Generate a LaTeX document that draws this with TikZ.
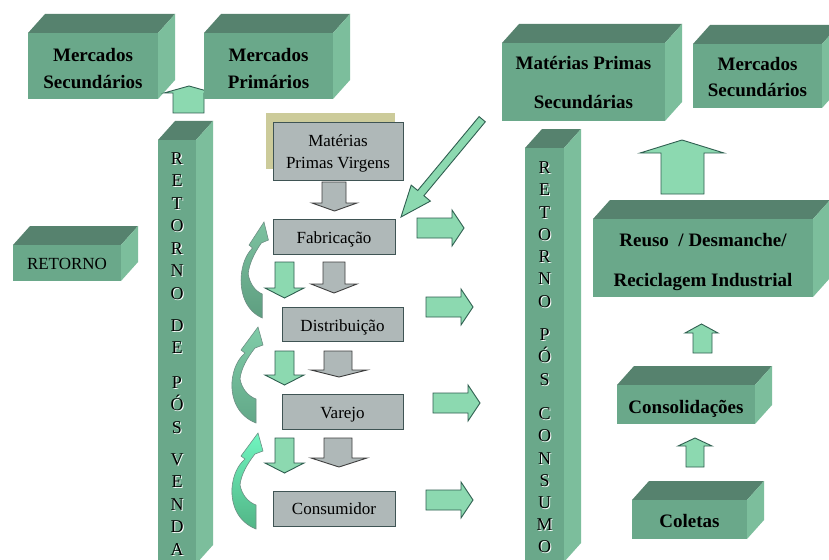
\documentclass[tikz,border=0pt]{standalone}
\usepackage{fontspec}
\setmainfont{Liberation Serif}
\definecolor{cfront}{HTML}{6AA88A}
\definecolor{ctop}{HTML}{56826E}
\definecolor{cside}{HTML}{7CBE9C}
\definecolor{agreen}{HTML}{8CD9B0}
\definecolor{aline}{HTML}{2F5F50}
\definecolor{gfill}{HTML}{AFB8B8}
\definecolor{gline}{HTML}{3F5454}
\definecolor{tanc}{HTML}{CCCB9A}
\definecolor{cva}{HTML}{7CC2A0}
\definecolor{cvb}{HTML}{5E9E80}
\definecolor{cvc}{HTML}{80CCA8}
\definecolor{cvd}{HTML}{62A888}
\definecolor{cve}{HTML}{70F5C0}
\definecolor{cvf}{HTML}{52B586}
\newcommand\cubebox[4]{%
  \fill[ctop] (#1,#2) -- (#1+17,#2-19) -- (#3+17,#2-19) -- (#3,#2) -- cycle;
  \fill[cside] (#3,#2) -- (#3+17,#2-19) -- (#3+17,#4-19) -- (#3,#4) -- cycle;
  \fill[cfront] (#1,#2) rectangle (#3,#4);}
\newcommand\curvarrow[5]{%
  \begin{scope}[shift={(#1,#2)},xscale=#5]
  \shade[top color=#3, bottom color=#4, draw=aline!70, line width=0.6pt]
   (23,96) .. controls (5,89) and (-2,72) .. (-1,55) .. controls (0,42) and (5,32) .. (12,26)
   -- (8,23) -- (25,0) -- (30,18) -- (22,21)
   .. controls (14,31) and (8,42) .. (7,52) .. controls (9,62) and (15,69) .. (23,72) -- cycle;
  \end{scope}}
\newcommand\rblock[2]{% x0, yc
  \draw[garrow] (#1,#2-10) -- (#1+35,#2-10) -- (#1+35,#2-18) -- (#1+47,#2) -- (#1+35,#2+18)
   -- (#1+35,#2+10) -- (#1,#2+10) -- cycle;}
\newcommand\dblock[8]{% style, sx1, sx2, top, hx1, hx2, base, tip
  \draw[#1] (#2,#4) -- (#3,#4) -- (#3,#7) -- (#6,#7) -- ({(#5+#6)/2},#8) -- (#5,#7) -- (#2,#7) -- cycle;}
\newcommand\ublock[7]{% sx1, sx2, bottom, hx1, hx2, base, tip
  \draw[garrow] (#1,#3) -- (#1,#6) -- (#4,#6) -- ({(#4+#5)/2},#7) -- (#5,#6) -- (#2,#6) -- (#2,#3) -- cycle;}
\begin{document}
\begin{tikzpicture}[x=1pt,y=-1pt,
  boxtxt/.style={font=\bfseries\fontsize{19}{24}\selectfont, inner sep=0pt, anchor=base},
  graytxt/.style={font=\fontsize{17}{21}\selectfont, inner sep=0pt, anchor=base},
  coltxt/.style={font=\fontsize{18}{18}\selectfont, inner sep=0pt, anchor=base},
  colshadow/.style={font=\fontsize{18}{18}\selectfont, inner sep=0pt, anchor=base, text=white},
  garrow/.style={fill=agreen, draw=aline, line width=0.9pt, line join=miter},
  karrow/.style={fill=gfill, draw=black!75, line width=0.9pt, line join=miter},
  gbox/.style={fill=gfill, draw=gline, line width=0.9pt}]
\useasboundingbox (0,0) rectangle (829,559);
\clip (0,0) rectangle (829,559);
\fill[white] (0,0) rectangle (829,559);

% left 3D boxes
\cubebox{28}{33}{158}{99}
\node[boxtxt] (ms1) at (93,61.5) {Mercados};
\node[boxtxt] (ms2) at (93,88.5) {Secundários};
% small up arrow
\draw[garrow] (173,113) -- (173,93) -- (164,93) -- (189,86) -- (214,93) -- (204,93) -- (204,113) -- cycle;
\cubebox{204}{33}{333}{99}
\node[boxtxt] (mp1) at (268.5,61.5) {Mercados};
\node[boxtxt] (mp2) at (268.5,88.5) {Primários};

\cubebox{13}{245}{121}{281}
\node[graytxt] (ret) at (67,269) {RETORNO};

% left column
\cubebox{158}{140}{196}{564}
\foreach \l/\y in {R/158,E/180.5,T/203,O/225.5,R/248,N/270.5,O/293,D/325,E/347.5,P/382,Ó/404.5,S/427,V/459,E/481.5,N/504,D/526.5,A/549}{
  \node[colshadow] at (178,\y+7) {\l};
  \node[coltxt] at (177,\y+6) {\l};}

% right column
\cubebox{525}{148}{564}{562}
\foreach \l/\y in {R/167,E/189.5,T/212,O/234,R/256,N/278.5,O/301,P/334,Ó/356.5,S/379,C/413,O/435.5,N/458,S/480,U/502,M/524,O/546}{
  \node[colshadow] at (545.5,\y+7) {\l};
  \node[coltxt] at (544.5,\y+6) {\l};}

% right 3D boxes
\cubebox{502}{43}{665}{121}
\node[boxtxt] (mps1) at (583.5,70) {Matérias Primas};
\node[boxtxt] (mps2) at (583.5,109) {Secundárias};
\cubebox{693}{44}{822}{108}
\node[boxtxt] (msr1) at (757.5,70.5) {Mercados};
\node[boxtxt] (msr2) at (757.5,96.5) {Secundários};
\cubebox{593}{219}{813}{297}
\node[boxtxt] (reu1) at (703,246.5) {Reuso\ \ / Desmanche/};
\node[boxtxt] (reu2) at (703,286) {Reciclagem Industrial};
\cubebox{617}{385}{755}{424}
\node[boxtxt] (con) at (686,413) {Consolidações};
\cubebox{632}{500}{747}{539}
\node[boxtxt] (col) at (689.5,527) {Coletas};

% up arrows on right
\ublock{661}{704}{194}{640}{724}{153}{140}
\ublock{693}{712}{353}{685}{718}{333}{324}
\ublock{686}{704}{467}{678}{712}{446}{438}

% grey boxes
\fill[tanc] (266,113) rectangle (395,169);
\draw[gbox] (273,122) rectangle (403,180);
\node[graytxt] (mpv1) at (338,146.7) {Matérias};
\node[graytxt] (mpv2) at (338,168.3) {Primas Virgens};
\draw[gbox] (273,219) rectangle (395,254);
\node[graytxt] (fab) at (334,243.3) {Fabricação};
\draw[gbox] (282,307) rectangle (403,341);
\node[graytxt] (dis) at (342.5,331.7) {Distribuição};
\draw[gbox] (282,394) rectangle (403,429);
\node[graytxt] (var) at (342.5,418.3) {Varejo};
\draw[gbox] (273,491) rectangle (395,526);
\node[graytxt] (cons) at (334,514) {Consumidor};

% down arrows
\dblock{karrow}{322}{346}{182}{312}{357}{203}{211}
\dblock{garrow}{275}{294}{262}{265}{304}{288}{298}
\dblock{karrow}{323}{345}{262}{311}{357}{284}{293}
\dblock{garrow}{275}{294}{351}{265}{304}{375}{385}
\dblock{karrow}{324}{352}{351}{311}{367}{370}{377}
\dblock{garrow}{275}{294}{438}{265}{304}{463}{473}
\dblock{karrow}{324}{352}{438}{311}{367}{458}{467}

% right block arrows
\rblock{417}{228}
\rblock{426}{307}
\rblock{433}{403}
\rblock{426}{500}

% diagonal arrow
\draw[garrow] (401,217) -- (430.4,201.1) -- (423.9,195.7) -- (485.3,121.8) -- (479.1,116.6)
  -- (417.7,190.5) -- (411.2,185.1) -- cycle;

% curved return arrows
\curvarrow{242}{222}{cva}{cvb}{0.88}
\curvarrow{233}{327}{cvc}{cvd}{1}
\curvarrow{233}{433}{cve}{cvf}{1}
\end{tikzpicture}
\end{document}
